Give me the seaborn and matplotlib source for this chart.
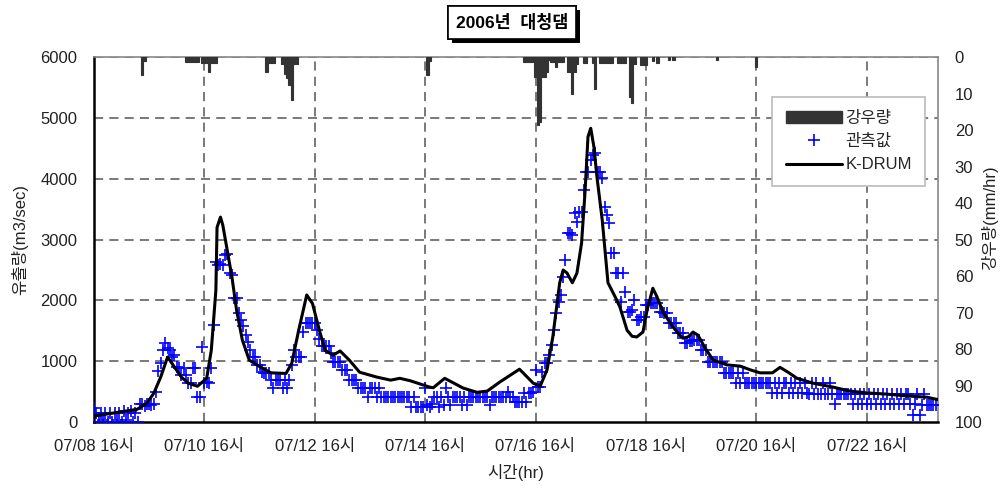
import matplotlib
matplotlib.use('Agg')
import numpy as np
import pandas as pd
import seaborn as sns
import matplotlib.pyplot as plt
import matplotlib.patheffects as pe
from matplotlib.patches import Patch
from matplotlib.lines import Line2D

# hours counted from 07/08 16시
tick_hours = [0, 48, 96, 144, 192, 240, 288, 336]
tick_labels = ['07/08 16시', '07/10 16시', '07/12 16시', '07/14 16시',
               '07/16 16시', '07/18 16시', '07/20 16시', '07/22 16시']

# K-DRUM simulated discharge (m3/sec)
model_hour = [0, 18.7, 23, 26, 29, 32, 38, 41, 45, 49, 51, 53, 53.5, 55, 56, 60, 62, 64.5, 67.5,
              73, 77, 83.5, 86, 89, 92.5, 95, 98, 100.5, 104, 107, 111, 115.5, 123, 129, 133,
              137.5, 146, 147.5, 152.5, 160.5, 166.5, 171, 176.5, 185, 191, 194, 197, 199.5,
              202.5, 204, 205.7, 208, 210, 212, 213.5, 214.8, 216, 217.4, 218.7, 221, 222.6,
              223.5, 226.6, 228.7, 231.8, 234, 236, 238.7, 240.5, 243, 244.8, 247.4, 251.8,
              256, 258.3, 260.5, 262.6, 265.7, 269.2, 275.3, 281, 285.3, 289.6, 295, 298.3,
              301.8, 305.7, 312.7, 321.4, 328.7, 336.1, 344.8, 353.5, 362.2, 367]
model_q = [100, 210, 310, 475, 740, 1070, 740, 640, 590, 720, 1180, 2170, 3200, 3370, 3240, 2380,
           1840, 1350, 1020, 890, 810, 800, 970, 1510, 2090, 1950, 1510, 1180, 1100, 1170, 1020,
           820, 740, 690, 720, 680, 575, 565, 720, 560, 490, 510, 660, 870, 640, 590, 860, 1400,
           2290, 2500, 2450, 2290, 2450, 2940, 3770, 4690, 4830, 4520, 4030, 3320, 2660, 2290,
           2060, 1890, 1510, 1410, 1400, 1480, 1840, 2200, 2060, 1810, 1560, 1380, 1400, 1480,
           1430, 1220, 1020, 940, 920, 860, 810, 810, 900, 820, 720, 640, 575, 510, 480, 460,
           430, 410, 370]

# observed discharge, hourly from 07/08 16시
obs_q = [
    230, 150, 0, 150, 30, 150, 0, 150, 0, 150, 30, 150, 0, 180, 30, 150, 180, 0, 150, 0, 300, 300, 270, 300,
    300, 280, 300, 500, 840, 970, 1180, 1300, 1220, 1180, 1070, 1100, 900, 890, 770, 890, 770, 640, 640, 890, 890, 410, 410, 1230,
    640, 660, 640, 890, 1590, 2630, 2580, 2600, 2580, 2750, 2760, 2450, 2420, 2040, 2040, 1800, 1680, 1580, 1430, 1320, 1180, 1070, 1070, 940,
    940, 820, 800, 800, 800, 690, 560, 690, 690, 690, 560, 690, 560, 690, 940, 1180, 1070, 1070, 1070, 1480, 1630, 1630, 1630, 1630,
    1630, 1510, 1360, 1250, 1250, 1250, 1250, 1130, 990, 990, 990, 990, 860, 860, 860, 690, 690, 690, 690, 560, 560, 560, 560, 410,
    560, 560, 560, 410, 560, 410, 410, 410, 410, 410, 410, 410, 410, 410, 410, 410, 410, 410, 250, 410, 250, 250, 250, 250,
    560, 280, 250, 290, 410, 410, 250, 410, 280, 560, 410, 280, 410, 410, 410, 410, 280, 410, 280, 410, 410, 410, 410, 410,
    410, 410, 410, 410, 280, 410, 410, 410, 410, 410, 410, 410, 490, 410, 410, 330, 330, 330, 330, 480, 330, 480, 480, 490,
    860, 580, 580, 820, 970, 970, 1100, 1270, 1510, 1790, 1970, 2090, 2380, 2660, 3110, 3110, 3070, 3440, 3290, 3450, 3450, 3810, 4110, 4110,
    4310, 4390, 4420, 4110, 4110, 4010, 3530, 3400, 3270, 2780, 2780, 2450, 2450, 1970, 2450, 2140, 1810, 1810, 1840, 2000, 1680, 1680, 1730, 1730,
    1920, 1920, 1960, 1960, 1950, 1950, 1810, 1810, 1790, 1790, 1630, 1630, 1630, 1630, 1460, 1460, 1460, 1300, 1300, 1330, 1330, 1350, 1350, 1350,
    1180, 1180, 1180, 990, 990, 990, 990, 990, 990, 990, 810, 810, 810, 810, 810, 640, 810, 640, 810, 640, 640, 640, 640, 640,
    640, 640, 640, 640, 640, 640, 640, 480, 640, 480, 640, 480, 640, 640, 480, 640, 480, 640, 480, 640, 480, 640, 480, 460,
    640, 460, 640, 460, 460, 640, 460, 460, 640, 460, 300, 460, 460, 460, 460, 460, 460, 460, 300, 460, 300, 460, 300, 460,
    300, 460, 300, 460, 300, 460, 300, 460, 300, 460, 300, 460, 300, 460, 300, 460, 300, 460, 460, 300, 115, 300, 460, 115,
    280, 460, 280, 280, 280, 280, 280,
]
obs_hour = list(range(len(obs_q)))

# hourly rainfall (mm/hr)
rain_hour = [21, 22, 40, 41, 42, 43, 44, 45, 47, 48, 49, 50, 51, 52, 53, 75, 76, 77, 78,
             82, 83, 84, 85, 86, 87, 88, 145, 146, 187, 188, 189, 190, 191, 192, 193, 194,
             195, 196, 197, 198, 199, 200, 201, 202, 203, 204, 206, 207, 208, 209, 210, 213,
             214, 217, 218, 220, 221, 222, 223, 224, 225, 228, 229, 230, 231, 233, 234, 235,
             238, 239, 240, 243, 245, 250, 252, 271, 288]
rain_mm = [4.8, 1.0, 1.4, 1.4, 1.4, 1.4, 1.4, 1.4, 1.6, 1.6, 1.6, 4.0, 1.6, 1.6, 1.6, 4.0, 1.7, 1.7, 1.7,
           1.8, 4.7, 5.8, 7.7, 11.8, 1.9, 1.9, 4.8, 1.0, 1.4, 1.4, 1.4, 1.4, 1.4, 5.5, 18.6, 17.8,
           5.5, 5.5, 4.0, 0.8, 1.4, 1.4, 2.7, 1.4, 1.4, 1.4, 4.0, 4.0, 10.0, 4.0, 1.9, 1.7,
           1.7, 1.5, 8.8, 1.7, 1.7, 1.7, 1.7, 1.7, 1.7, 1.7, 1.7, 1.7, 1.7, 11.0, 12.6, 1.9,
           2.2, 2.2, 2.2, 1.1, 1.5, 0.7, 0.7, 0.8, 2.7]

model = pd.DataFrame({'hour': model_hour, 'q': model_q})
obs = pd.DataFrame({'hour': obs_hour, 'q': obs_q})

sns.set_style('white')
plt.rcParams['font.family'] = ['Liberation Sans', 'Noto Sans CJK KR', 'DejaVu Sans']

fig = plt.figure(figsize=(10, 4.88), dpi=100)
ax = fig.add_axes([0.094, 0.135, 0.844, 0.748])

grid_kw = dict(color='#555555', linestyle=(0, (6, 4)), linewidth=1.1, zorder=0)
for h in tick_hours[1:]:
    ax.axvline(h, **grid_kw)
for q in range(1000, 7000, 1000):
    ax.axhline(q, **grid_kw)

sns.scatterplot(data=obs, x='hour', y='q', ax=ax, marker='+', color='blue',
                s=70, linewidth=1.2, zorder=3, legend=False)
sns.lineplot(data=model, x='hour', y='q', ax=ax, color='black', linewidth=2.2,
             zorder=4, legend=False)

ax.set_xlim(0, 367)
ax.set_ylim(0, 6000)
ax.set_xticks(tick_hours)
ax.set_xticklabels(tick_labels)
ax.set_yticks(range(0, 7000, 1000))
ax.tick_params(length=0, labelsize=12, colors='#222222')
ax.tick_params(axis='x', pad=12)
ax.tick_params(axis='y', pad=12)
ax.set_xlabel('시간(hr)', fontsize=12, labelpad=7, color='#222222')
ax.set_ylabel('유출량(m3/sec)', fontsize=12, labelpad=9, color='#222222')
for side in ['left', 'bottom']:
    ax.spines[side].set_color('black')
    ax.spines[side].set_linewidth(1.8)
for side in ['top', 'right']:
    ax.spines[side].set_color('#888888')
    ax.spines[side].set_linewidth(1.2)

ax2 = ax.twinx()
ax2.bar(rain_hour, rain_mm, width=1.0, color='#333333', edgecolor='#333333',
        linewidth=0.8, zorder=2)
ax2.set_ylim(100, 0)
ax2.set_yticks(range(0, 110, 10))
ax2.tick_params(length=0, labelsize=12, colors='#222222', pad=12)
ax2.set_ylabel('강우량(mm/hr)', fontsize=12, color='#222222', va='center')
ax2.yaxis.set_label_coords(1.0615, 0.56)
for side in ax2.spines:
    ax2.spines[side].set_visible(False)

handles = [Patch(facecolor='#333333', edgecolor='#333333'),
           Line2D([], [], marker='+', color='blue', linestyle='none', markersize=9, markeredgewidth=1.2),
           Line2D([], [], color='black', linewidth=2.2)]
leg = ax2.legend(handles, ['강우량', '관측값', 'K-DRUM'], loc='upper right',
                 bbox_to_anchor=(0.985, 0.89), fontsize=12, frameon=True, fancybox=False,
                 framealpha=1, edgecolor='#bbbbbb', handlelength=3.4, handleheight=0.7,
                 borderpad=0.8, labelspacing=0.5, handletextpad=0.2, borderaxespad=0)
leg.get_frame().set_linewidth(1.2)

title = fig.text(0.512, 0.954, '2006년  대청댐', color='black', ha='center', va='center',
                 fontsize=12.5, fontweight='bold',
                 bbox=dict(boxstyle='square,pad=0.45', fc='white', ec='black', lw=1.2))
title.get_bbox_patch().set_path_effects(
    [pe.withSimplePatchShadow(offset=(3, -3), shadow_rgbFace='black', alpha=1), pe.Normal()])

fig.savefig('out.png', dpi=100)
